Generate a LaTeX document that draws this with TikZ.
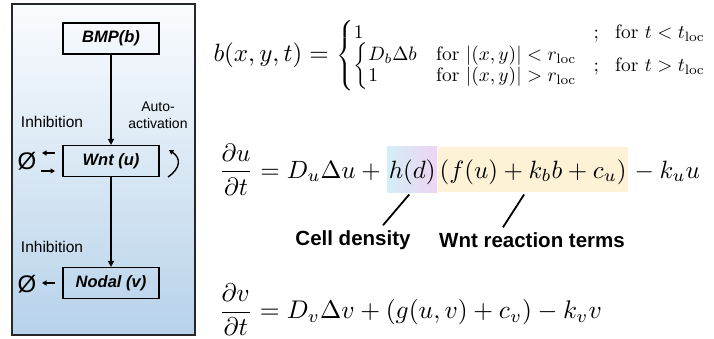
\documentclass[tikz,border=0pt]{standalone}
\usepackage{amsmath,amssymb}
\usepackage{fontspec}
\newfontfamily\arial{Liberation Sans}
\usetikzlibrary{arrows.meta}
\definecolor{panelbot}{RGB}{183,210,234}
\definecolor{paneltop}{RGB}{250,252,254}
\definecolor{hdleft}{RGB}{212,238,246}
\definecolor{hdright}{RGB}{238,212,243}
\definecolor{yel}{RGB}{253,242,214}
\definecolor{edge}{RGB}{40,40,40}
\tikzset{
 gene/.style={draw=black, line width=1.2pt, minimum width=96pt, minimum height=31pt, inner sep=0pt, font=\arial\bfseries\itshape\fontsize{16.5}{19}\selectfont},
 lab/.style={font=\arial\fontsize{15.5}{17}\selectfont, inner sep=0pt, align=center},
 nul/.style={font=\arial\fontsize{24}{26}\selectfont, inner sep=0pt},
 bigarr/.style={line width=1.4pt, -{Triangle[length=6pt,width=6pt]}},
 smallarr/.style={line width=1.4pt, -{Triangle[length=4.5pt,width=5pt]}},
 eq/.style={inner sep=0pt},
 hl/.style={eq, anchor=base west, scale=2.5, inner xsep=0.6pt, inner ysep=0pt, text height=12.5pt, text depth=5.5pt},
 note/.style={font=\arial\bfseries\fontsize{20.5}{23}\selectfont, inner sep=0pt},
 pointer/.style={line width=1.8pt},
}
\begin{document}
\begin{tikzpicture}[x=1pt,y=-1pt]
\useasboundingbox (0,0) rectangle (714,339);
% left panel
\draw[edge, line width=2pt, top color=paneltop, bottom color=panelbot] (12,4) rectangle (195,335);
\node[gene] (bmp) at (111,38.5) {BMP(b)};
\node[gene] (wnt) at (111,161) {Wnt (u)};
\node[gene] (nod) at (111,283) {Nodal (v)};
\draw[bigarr] (bmp) -- (wnt);
\draw[bigarr] (wnt) -- (nod);
\node[lab] (inh1) at (52,122) {Inhibition};
\node[lab, font=\arial\fontsize{14}{17}\selectfont] (auto) at (158,115) {Auto-\\activation};
\node[lab] (inh2) at (52,247) {Inhibition};
\node[nul] (e1) at (27,161) {Ø};
\node[nul] (e2) at (27,284) {Ø};
\coordinate (w1) at (55,153);
\coordinate (z1) at (42,153);
\coordinate (z2) at (41,171);
\coordinate (w2) at (55,171);
\coordinate (n1) at (55,283);
\coordinate (z3) at (42,283);
\draw[smallarr] (w1) -- (z1);
\draw[smallarr] (z2) -- (w2);
\draw[smallarr] (n1) -- (z3);
\coordinate (lb) at (168,177);
\coordinate (lt) at (169,150);
\draw[smallarr] (lb) .. controls (181,168) and (181,158) .. (lt);
% equation 1
\node[eq, anchor=base west, scale=2.5] (eqb) at (213,62) {$b(x,y,t)=$};
\node[eq, anchor=west, scale=1.94] (eqc) at ([xshift=7pt]eqb.east) {$\displaystyle\left\{\begin{array}{@{}l@{\;}l}
 1 & ;\ \ \text{for } t<t_{\mathrm{loc}}\\[-1pt]
 \left\{\begin{array}{@{}l@{\quad}l} D_b\Delta b & \text{for } |(x,y)|<r_{\mathrm{loc}}\\[-1pt] 1 & \text{for } |(x,y)|>r_{\mathrm{loc}}\end{array}\right. & ;\ \ \text{for } t>t_{\mathrm{loc}}
 \end{array}\right.$};
% equation 2
\node[eq, anchor=base west, scale=2.5] (u1) at (218,178.25) {$\displaystyle\frac{\partial u}{\partial t}=D_u\Delta u+{}$};
\node[hl, left color=hdleft, right color=hdright] (hd) at (u1.base east) {$h(d)$};
\node[hl, fill=yel] (wr) at (hd.base east) {$(f(u)+k_bb+c_u)$};
\node[eq, anchor=base west, scale=2.5] (u2) at (wr.base east) {${}-k_uu$};
% annotations
\node[note] (cd) at (353,240) {Cell density};
\node[note] (wrt) at (532,240) {Wnt reaction terms};
\draw[pointer] ([shift={(-3pt,-2pt)}]hd.south) -- ([shift={(30pt,5pt)}]cd.north);
\draw[pointer] ([shift={(-9pt,-2pt)}]wr.south) -- ([shift={(-29pt,5pt)}]wrt.north);
% equation 3
\node[eq, anchor=base west, scale=2.55] (v1) at (218,318.4) {$\displaystyle\frac{\partial v}{\partial t}=D_v\Delta v+(g(u,v)+c_v)-k_vv$};
\end{tikzpicture}
\end{document}
